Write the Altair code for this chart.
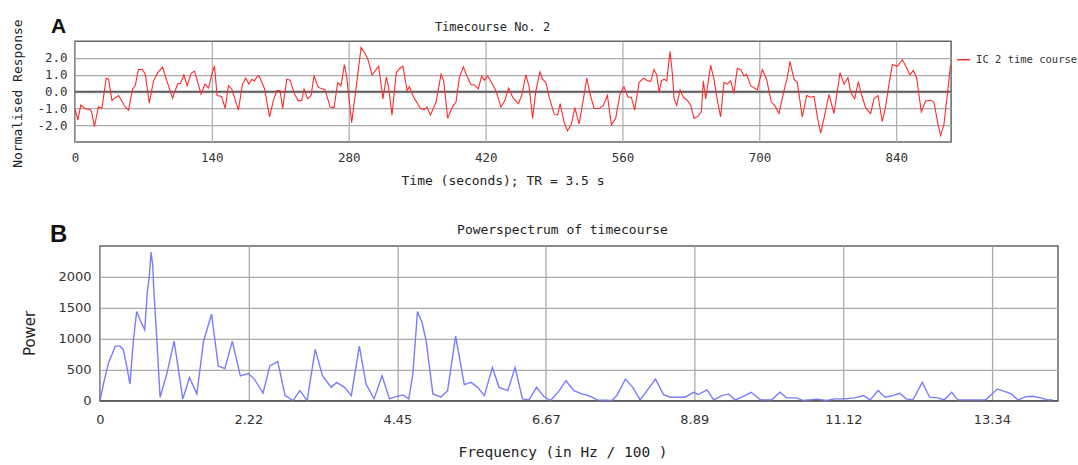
import altair as alt
import pandas as pd

# ---------------- data ----------------
tc_time = [0, 3, 6, 10.5, 15.7, 17, 20, 24, 27.6, 32, 34.4, 37.8, 44.6, 51.4, 54.8, 59, 61.6, 65, 69, 72,
           76, 80.4, 84.8, 89.6, 94, 99.8, 105, 108, 111.4, 114.8, 118.9, 122.3, 129, 133, 136.6, 140,
           142.7, 145.4, 150, 153.6, 157, 160.4, 167.2, 171.3, 174.7, 178, 180.9, 183.6, 186, 188.4, 194,
           199, 203, 206.4, 209.8, 212.5, 216.6, 220, 224.5, 228.6, 232, 234.3, 238, 241.5, 244.5, 249,
           255.8, 261, 265, 268.7, 272, 275.6, 278, 283, 288, 292.6, 296.5,
           299.7, 303.8, 308.2, 310.6, 315, 318.4, 320.8, 324.2, 328.6, 332, 335.4, 339.7, 342.1, 346.5,
           353.3, 357.4, 360.1, 363.5, 369.3, 374.4, 377.1, 381.2, 385.6, 389.7, 393.1, 397.2, 400.9, 405,
           408.4, 412.5, 415.9, 418.6, 422, 426.1, 430.5, 435.6, 439.7, 443.5, 447.6, 453.4, 456.8, 461.2,
           464.6, 468, 471.4, 475.5, 478.2, 481.6, 485, 490.1, 493.5, 496.2, 500.3, 503.7, 507.8, 511.2,
           515.6, 520, 523.4, 526.8, 530.9, 536, 540.4, 544.5, 548.6, 553, 557.4, 561.5, 565.6, 569, 572.4,
           576.9, 581.3, 584.7, 588.8, 592.2, 594.9,
           597.4, 599.8, 602.5, 605.2, 608.6, 611, 612.7, 615.4, 618.8, 622.2, 626.3, 629.7, 633.1, 637.2,
           640.6, 642.6, 645, 650.1, 653.5, 656.9, 660.3, 663.7, 667.1, 670.5, 673.9, 677.3, 680.8, 684.2,
           686.9, 691, 697.8, 702.9, 707.3, 712.1, 715.5, 720, 725.1, 728.5, 731.2, 735.3, 738.7, 743.8,
           748.3, 752.4, 755.8, 759.2, 762.6, 766, 771.1, 776.2, 782.4, 786.5, 790.5, 793.3, 797.4, 801.1,
           804.2, 808.6, 813.7, 817.1, 821.2, 825.6, 829, 832.5, 835.9, 841, 846.1, 850.5, 853.9, 857.3,
           860.7, 865.5, 869.9, 875, 878.4, 881.8, 885.2, 888.6, 892, 895.4]
tc_value = [-1.0, -1.7, -0.8, -1.0, -1.07, -1.2, -2.08, -0.9, -1.0, 0.8, 0.74, -0.52, -0.23, -0.91, -1.1,
            0.16, 0.35, 1.32, 1.32, 1.03, -0.68, 0.64, 1.13, 1.46, 0.64, -0.39, 0.45, 0.49, 0.99, 0.35,
            1.09, 1.22, -0.14, 0.45, 0.21, 1.03, 1.53, -0.23, -0.29, -1.0, 0.35, 0.16, -1.1, 0.45, 0.8,
            0.45, 0.74, 0.64, 0.87, 0.93, 0.16, -1.5, -0.52, 0.06, 0.06, -1.0, 0.74, 0.68, -0.14, -0.56,
            -0.52, 0.16, -0.43, -0.23, 0.93, 0.25, 0.1, -0.91, -0.95, 0.54, 0.35, 1.61, 0.83, -1.84, 0.45,
            2.62, 2.3,
            1.9, 0.99, 1.32, 1.51, -0.43, 0.87, 0.25, -1.4, 1.13, 1.38, 1.51, 0.06, 0.29, -0.33, -1.0,
            -1.07, -0.91, -1.4, -0.62, 1.03, 0.64, -1.59, -0.95, -0.62, 0.83, 1.46, 0.93, 0.41, 0.41, 0.16,
            0.93, 0.68, 0.93, 0.54, 0.06, -0.91, -0.52, 0.21, -0.33, -0.72, -0.23, 0.99, 0.25, -1.59, 0.06,
            1.18, 0.74, 0.54, -0.33, -1.34, -1.4, -0.72, -1.84, -2.33, -1.92, -0.95, -1.92, -0.43, 0.8,
            -0.14, -1.0, -1.0, -0.82, -0.23, -1.98, -1.59, -0.14, 0.29, -0.33, -0.33, -1.1, 0.54, 0.8,
            0.68, 0.6, 1.32, 1.0,
            -0.04, 0.64, 0.74, 0.64, 2.39, 1.03, -0.43, -0.82, 0.1, -0.33, -0.52, -0.82, -1.59, -1.46,
            -1.2, 0.64, -0.43, 1.57, 0.74, -0.52, -1.5, 0.54, 0.45, 0.64, -0.1, 1.38, 1.32, 0.93, 1.03,
            0.35, 0.1, 1.32, 0.74, -0.62, -0.82, -1.3, 0.06, 0.83, 1.8, 0.74, 0.54, -1.5, -0.23, -0.33,
            -0.29, -1.5, -2.47, -1.59, -0.17, -1.3, 1.13, 0.45, 0.83, -0.04, -0.43, 0.6, -0.14, -0.95,
            -1.3, -0.43, -0.23, -1.79, -0.91, 0.45, 1.61, 1.51, 1.9, 1.42, 0.99, 1.26, 0.83, -1.2, -0.56,
            -0.52, -0.62, -1.69, -2.62, -1.98, -0.23, 1.57]
time_ticks = [0, 140, 280, 420, 560, 700, 840]
resp_ticks = [-2, -1, 0, 1, 2]

spec_freq = [0, 0.064, 0.13, 0.23, 0.30, 0.35, 0.40, 0.45, 0.50, 0.55, 0.60, 0.67, 0.71, 0.74, 0.765, 0.79,
             0.81, 0.85, 0.90, 1.0, 1.11, 1.17, 1.24, 1.34, 1.45, 1.55, 1.67, 1.77, 1.87, 1.98, 2.10, 2.22,
             2.31, 2.44, 2.54, 2.66, 2.77, 2.89, 2.99, 3.10, 3.22, 3.33, 3.46, 3.54, 3.66, 3.76, 3.88, 3.98,
             4.10, 4.22, 4.33, 4.43, 4.53, 4.62, 4.68, 4.75, 4.82, 4.88, 4.98, 5.10, 5.20, 5.32, 5.45, 5.55,
             5.65, 5.75, 5.87, 5.97, 6.10, 6.21, 6.32, 6.42, 6.53, 6.64, 6.74, 6.87, 6.97, 7.09, 7.21, 7.31,
             7.44, 7.66, 7.73, 7.86, 7.97, 8.08, 8.31, 8.43, 8.53, 8.75, 8.88, 8.95, 9.08, 9.18, 9.30, 9.40,
             9.50, 9.60, 9.74, 9.88, 10.05, 10.17, 10.27, 10.42, 10.52, 10.72, 10.87, 10.99, 11.14, 11.29,
             11.42, 11.52, 11.64, 11.74, 11.86, 11.96, 12.06, 12.16, 12.30, 12.41, 12.53, 12.63, 12.74,
             12.83, 12.98, 13.10, 13.25, 13.42, 13.53, 13.63, 13.73, 13.85, 13.95, 14.07, 14.17, 14.25]
spec_power = [0, 325, 617, 883, 883, 830, 564, 271, 963, 1442, 1309, 1149, 1761, 2027, 2400, 2187,
              1708, 1016, 59, 431, 963, 537, 32, 378, 112, 963, 1399, 564, 521, 963, 404, 442,
              351, 122, 564, 633, 85, 5, 165, 5, 830, 404, 218, 298, 218, 85, 883, 271,
              32, 404, 32, 69, 96, 32, 431, 1442, 1256, 963, 112, 59, 165, 1043, 261, 298,
              218, 85, 537, 218, 165, 537, 32, 16, 218, 69, 5, 165, 325, 165, 112, 85,
              16, 5, 85, 351, 218, 16, 351, 101, 59, 59, 138, 101, 176, 16, 85, 112,
              16, 59, 138, 16, 16, 138, 48, 48, 5, 27, 5, 32, 32, 48,
              85, 16, 165, 59, 85, 122, 32, 16, 298, 59, 48, 16, 138,
              16, 16, 16, 16, 192, 154, 112, 16, 69, 75, 48, 16, 16]
freq_ticks = [0, 2.22, 4.45, 6.67, 8.89, 11.12, 13.34]
power_ticks = [0, 500, 1000, 1500, 2000]

series_name = ["IC 2 time course"]
top_title = ["Timecourse No. 2"]
bottom_title = ["Powerspectrum of timecourse"]

# ---------------- styling ----------------
MONO = "DejaVu Sans Mono"
SANS = "DejaVu Sans"
BOLD = "Liberation Sans"
GRID = "#ababab"
TXT = "#333333"

top_df = pd.DataFrame({"time": tc_time, "value": tc_value})
top_df["series"] = series_name[0]
zero_df = pd.DataFrame({"value": [0]})
spec_df = pd.DataFrame({"freq": spec_freq, "power": spec_power})
lab_a = pd.DataFrame({"t": ["A"]})
lab_b = pd.DataFrame({"t": ["B"]})
ttl_a = pd.DataFrame({"t": top_title})
ttl_b = pd.DataFrame({"t": bottom_title})

y_top = alt.Y("value:Q",
              scale=alt.Scale(domain=[-3, 3], nice=False, zero=False),
              axis=alt.Axis(values=resp_ticks, title="Normalised Response",
                            labelExpr="datum.value < 0 ? '-' + format(-datum.value, '.1f') : format(datum.value, '.1f')",
                            grid=True, gridColor=GRID, gridWidth=1.2, ticks=False, domain=False,
                            labelFont=MONO, labelFontSize=12.5, labelColor=TXT, labelPadding=8,
                            titleFont=MONO, titleFontSize=13, titleFontWeight="normal", titleColor="#222222",
                            titleX=-57, titleY=52, titleBaseline="middle", titleAlign="center", titleAngle=270))

x_top = alt.X("time:Q",
              scale=alt.Scale(domain=[0, 896], nice=False, zero=False),
              axis=alt.Axis(values=time_ticks, format="d", title="Time (seconds); TR = 3.5 s",
                            grid=True, gridColor=GRID, gridWidth=1.2, ticks=False, domain=False,
                            labelFont=MONO, labelFontSize=12.5, labelColor=TXT, labelPadding=9,
                            labelFlush=False,
                            titleFont=MONO, titleFontSize=13, titleFontWeight="normal", titleColor="#222222",
                            titleX=428, titleY=38, titleBaseline="middle"))

zero_rule = alt.Chart(zero_df).mark_rule(color="#5a5a5a", strokeWidth=1.6).encode(y=y_top)

top_line = alt.Chart(top_df).mark_line(strokeWidth=1.1, clip=True).encode(
    x=x_top,
    y=y_top,
    color=alt.Color("series:N",
                    scale=alt.Scale(domain=series_name, range=["#ff2b2b"]),
                    legend=alt.Legend(title=None, orient="none", legendX=953, legendY=11,
                                      symbolType="stroke", symbolStrokeWidth=1.5, symbolSize=169,
                                      labelFont=MONO, labelFontSize=10.5, labelColor=TXT,
                                      labelOffset=5, padding=0)),
)

a_text = alt.Chart(lab_a).mark_text(font=BOLD, fontSize=21, fontWeight="bold", align="left",
                                    baseline="alphabetic", color="#111111").encode(
    text="t:N", x=alt.value(-24), y=alt.value(-8))

a_title = alt.Chart(ttl_a).mark_text(font=MONO, fontSize=12, align="center", baseline="middle",
                                     color="#222222").encode(
    text="t:N", x=alt.value(418), y=alt.value(-14))

top = alt.layer(zero_rule, top_line, a_text, a_title).properties(
    width=877, height=101,
    view=alt.ViewBackground(stroke="#666666", strokeWidth=1.5),
)

x_bot = alt.X("freq:Q",
              scale=alt.Scale(domain=[0, 14.33], nice=False, zero=False),
              axis=alt.Axis(values=freq_ticks, title="Frequency (in Hz / 100 )",
                            labelExpr="datum.value == 0 ? '0' : format(datum.value, '.2f')",
                            grid=True, gridColor=GRID, gridWidth=1.3, ticks=False, domain=False,
                            labelFont=SANS, labelFontSize=13, labelColor=TXT, labelPadding=13,
                            labelFlush=False,
                            titleFont=MONO, titleFontSize=14.5, titleFontWeight="normal", titleColor="#222222",
                            titleX=463, titleY=52, titleBaseline="middle"))
y_bot = alt.Y("power:Q",
              scale=alt.Scale(domain=[0, 2500], nice=False, zero=True),
              axis=alt.Axis(values=power_ticks, format="d", title="Power",
                            grid=True, gridColor=GRID, gridWidth=1.3, ticks=False, domain=False,
                            labelFont=SANS, labelFontSize=13, labelColor=TXT, labelPadding=9,
                            titleFont=SANS, titleFontSize=15, titleFontWeight="normal", titleColor="#222222",
                            titleX=-70, titleY=87, titleBaseline="middle", titleAlign="center", titleAngle=270))

base_rule = alt.Chart(zero_df.rename(columns={"value": "power"})).mark_rule(
    color="#5a5a5a", strokeWidth=1.6).encode(y=y_bot)

spec_line = alt.Chart(spec_df).mark_line(strokeWidth=1.4, color="#7b7bff", clip=True).encode(
    x=x_bot, y=y_bot)

b_text = alt.Chart(lab_b).mark_text(font=BOLD, fontSize=24, fontWeight="bold", align="left",
                                    baseline="alphabetic", color="#111111").encode(
    text="t:N", x=alt.value(-50), y=alt.value(-4))

b_title = alt.Chart(ttl_b).mark_text(font=MONO, fontSize=13, align="center", baseline="middle",
                                     color="#222222").encode(
    text="t:N", x=alt.value(463), y=alt.value(-16))

bottom = alt.layer(base_rule, spec_line, b_text, b_title).properties(
    width=959, height=155,
    view=alt.ViewBackground(stroke="#666666", strokeWidth=1.5),
)


def spacer(w):
    return alt.Chart(pd.DataFrame({"s": [0]})).mark_point(opacity=0).encode(
        x=alt.value(0), y=alt.value(0)).properties(
        width=w, height=5, view=alt.ViewBackground(stroke="transparent"))


row1 = alt.hconcat(spacer(6), top, spacing=0)
row2 = alt.hconcat(spacer(17), bottom, spacing=0)

chart = alt.vconcat(row1, row2, spacing=34).properties(
    padding={"left": 0, "top": 15, "right": 0, "bottom": 0},
    background="white",
)

chart.save("out.html", embed_options={"renderer": "svg", "actions": False})
